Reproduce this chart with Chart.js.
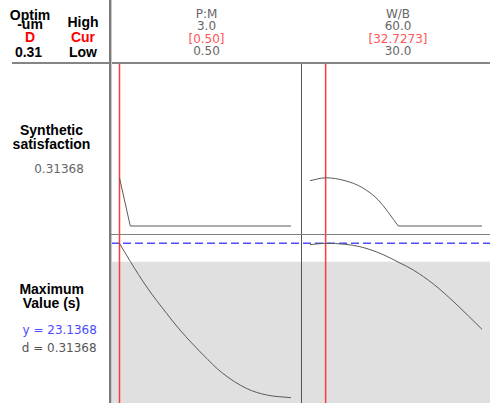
<!DOCTYPE html>
<html>
<head>
<meta charset="utf-8">
<script src="https://cdn.jsdelivr.net/npm/chart.js@4.4.1/dist/chart.umd.min.js"></script>
<style>
  html, body { margin:0; padding:0; background:#fff; }
  #wrap { position:relative; width:490px; height:403px; overflow:hidden; background:#fff; }
  canvas { position:absolute; }
  .t { position:absolute; transform:translate(-50%,-50%); white-space:nowrap; line-height:1; }
  .b { font-family:"Liberation Sans", Arial, sans-serif; font-weight:bold; font-size:14px; color:#000; }
  .g { font-family:"DejaVu Sans", sans-serif; font-size:12px; color:#666; }
  .ln { position:absolute; }
</style>
</head>
<body>
<div id="wrap"></div>
<script>
// ---------- data ----------
const factorNames   = ['P:M', 'W/B'];
const factorHigh    = ['3.0', '60.0'];
const factorCurrent = ['[0.50]', '[32.7273]'];
const factorLow     = ['0.50', '30.0'];
const currentValues = [0.50, 32.7273];

const optimalD = '0.31';
const compositeLabel = '0.31368';
const responseY = 23.1368;
const responseLabelY = 'y = 23.1368';
const responseLabelD = 'd = 0.31368';
const lowerBound = 20;

// P:M column: composite desirability (top) and Maximum Value (bottom)
const pmDX = [0.50, 0.657, 3.0];
const pmD  = [0.31368, 0, 0];
const pmYX = [0.50, 0.660, 0.897, 1.188, 1.382, 1.722, 1.990, 2.354, 2.646, 3.0];
const pmY  = [23.137, 20.0, 15.69, 11.17, 8.35, 4.09, 1.11, -1.62, -2.73, -3.19];

// W/B column
const wbDX = [30.0, 32.7273, 36.10, 39.01, 41.91, 45.40];
const wbD  = [0.295, 0.31368, 0.295, 0.252, 0.169, 0];
const wbFlatX = [45.40, 60.0];
const wbFlatD = [0, 0];
const wbYX = [30.0, 32.7273, 36.10, 38.72, 42.21, 45.70, 48.02, 51.51, 55.29, 60.0];
const wbY  = [22.90, 23.1368, 22.97, 22.56, 21.43, 19.78, 18.58, 16.20, 12.96, 8.47];

// axis ranges
const xRanges = [[0.3761, 3.1458], [28.430, 61.395]];
const dRange = [-0.0521, 1.0543];
const yRange = [-4.092, 24.722];

// ---------- layout ----------
const wrap = document.getElementById('wrap');
const cols = [{left:111, width:190}, {left:301, width:189}];
const rows = [{top:64, height:170}, {top:234, height:169}];

function pts(xs, ys) { return xs.map((x, i) => ({x, y: ys[i]})); }
function curve(xs, ys, smooth) {
  return { data: pts(xs, ys), borderColor:'#5a5a5a', borderWidth:1, pointRadius:0,
           cubicInterpolationMode: smooth ? 'monotone' : 'default', tension: 0 };
}

function makeChart(ci, ri, curves) {
  const c = document.createElement('canvas');
  c.width = cols[ci].width; c.height = rows[ri].height;
  c.style.left = cols[ci].left + 'px'; c.style.top = rows[ri].top + 'px';
  wrap.appendChild(c);
  const xr = xRanges[ci];
  const yr = ri === 0 ? dRange : yRange;
  const datasets = curves.slice();
  datasets.push({ data: [{x:currentValues[ci], y:yr[0]}, {x:currentValues[ci], y:yr[1]}], borderColor:'#ff3a3a', borderWidth:1.5, pointRadius:0 });
  if (ri === 1) {
    datasets.push({ data: [{x:xr[0], y:responseY}, {x:xr[1], y:responseY}], borderColor:'#4f4fff', borderWidth:1.5, borderDash:[8,4], borderDashOffset: ci === 1 ? (cols[1].left - cols[0].left) % 12 : 0, pointRadius:0 });
    datasets.push({ data: [{x:xr[0], y:lowerBound}, {x:xr[1], y:lowerBound}], borderWidth:0, borderColor:'rgba(0,0,0,0)', backgroundColor:'#e0e0e0', fill:'start', pointRadius:0 });
  }
  new Chart(c, {
    type: 'line',
    data: { datasets },
    options: {
      responsive:false, animation:false, devicePixelRatio:1,
      layout:{ padding:0 },
      plugins:{ legend:{display:false}, tooltip:{enabled:false} },
      scales:{
        x:{ type:'linear', min:xr[0], max:xr[1], display:false },
        y:{ type:'linear', min:yr[0], max:yr[1], display:false }
      }
    }
  });
}

makeChart(0, 0, [curve(pmDX, pmD, false)]);
makeChart(1, 0, [curve(wbDX, wbD, true), curve(wbFlatX, wbFlatD, false)]);
makeChart(0, 1, [curve(pmYX, pmY, true)]);
makeChart(1, 1, [curve(wbYX, wbY, true)]);

// frame lines
function line(l, t, w, h, col) {
  const d = document.createElement('div');
  d.className = 'ln';
  d.style.cssText = `left:${l}px;top:${t}px;width:${w}px;height:${h}px;background:${col};`;
  wrap.appendChild(d);
}
line(12, 62, 478, 2, '#858585');
line(109, 0, 2, 403, '#7a7a7a');
line(111, 0, 1, 403, '#c8c8c8');
line(301, 64, 1, 339, '#555');
line(111, 234, 379, 1, '#808080');

// texts
function txt(s, x, y, cls, color) {
  const d = document.createElement('div');
  d.className = 't ' + cls;
  d.textContent = s;
  d.style.left = x + 'px'; d.style.top = y + 'px';
  if (color) d.style.color = color;
  wrap.appendChild(d);
}
txt('Optim', 30, 14.5, 'b');
txt('-um', 30, 24, 'b');
txt('D', 30, 37, 'b', '#ff0000');
txt(optimalD, 28.5, 52, 'b');
txt('High', 83, 21.5, 'b');
txt('Cur', 83, 37, 'b', '#ff0000');
txt('Low', 83, 52, 'b');

const hx = [206.5, 398];
for (let i = 0; i < 2; i++) {
  txt(factorNames[i], hx[i], 14, 'g');
  txt(factorHigh[i], hx[i], 26, 'g');
  txt(factorCurrent[i], hx[i], 38.5, 'g', '#ff5555');
  txt(factorLow[i], hx[i], 51, 'g');
}

txt('Synthetic', 51.5, 129.5, 'b');
txt('satisfaction', 51.5, 143.5, 'b');
txt(compositeLabel, 59, 168.5, 'g');
txt('Maximum', 51.7, 289, 'b');
txt('Value (s)', 51.5, 303, 'b');
txt(responseLabelY, 59.7, 330, 'g', '#4a4aff');
txt(responseLabelD, 59.2, 347.5, 'g', '#555');
</script>
</body>
</html>
